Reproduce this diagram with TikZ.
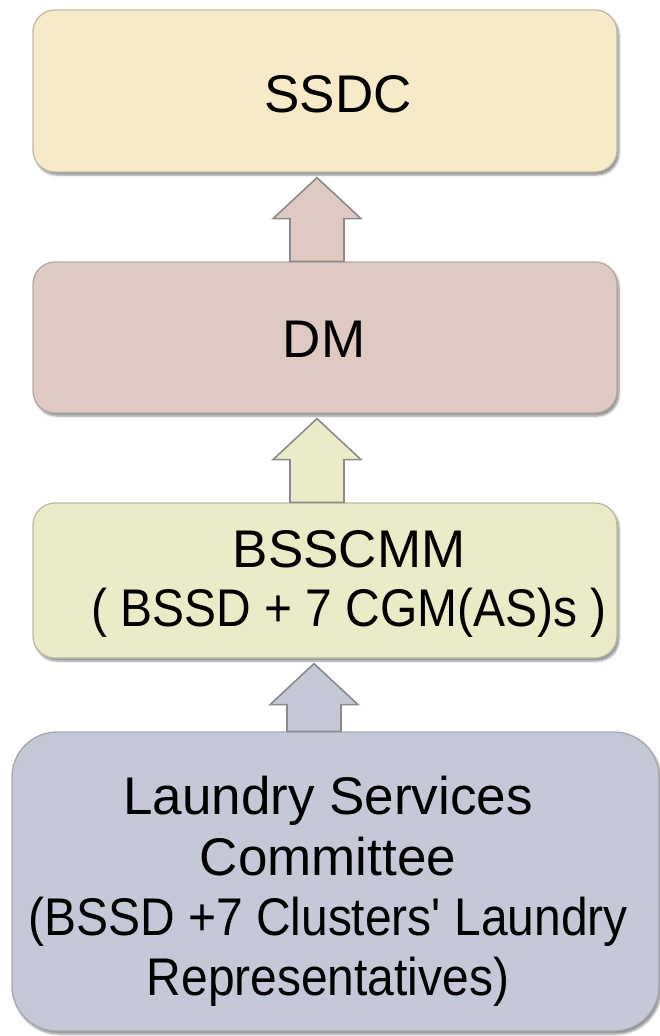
\documentclass[tikz,border=0pt]{standalone}
\usepackage{fontspec}
\usepackage{graphicx}
\setmainfont{Liberation Sans}
\usetikzlibrary{calc,shadows.blur}

\definecolor{ssdcfill}{HTML}{F7EAC8}
\definecolor{dmfill}{HTML}{DFCAC3}
\definecolor{bssfill}{HTML}{EBEBC8}
\definecolor{lscfill}{HTML}{C5C8D7}
\definecolor{arrowline}{HTML}{8A8A8A}

\tikzset{
  tier/.style={fill=#1, draw=#1!55!gray, line width=1.3pt,
    rounded corners=22pt, inner sep=0pt,
    blur shadow={shadow xshift=2pt, shadow yshift=-3pt,
      shadow blur steps=6, shadow opacity=45}},
  tiertext/.style={inner sep=0pt, align=center, text=black,
    font=\fontsize{53}{60}\selectfont},
  connarrow/.style={draw=arrowline, line width=1.6pt, line join=miter}
}

% narrower set for the bracketed lines
\newcommand\narrowline[1]{\scalebox{0.905}[1]{#1}}

% Block arrow from the top of #1 up to the bottom of #2, centred on coordinate #3
\newcommand\upconn[4]{%
  \draw[connarrow, fill=#4]
    ($(#1.north -| #3)+(-27,0)$) -- ($(#2.south -| #3)+(-27,46)$)
    -- ($(#2.south -| #3)+(-44,46)$) -- ($(#2.south -| #3)+(0,5)$)
    -- ($(#2.south -| #3)+(44,46)$) -- ($(#2.south -| #3)+(27,46)$)
    -- ($(#1.north -| #3)+(27,0)$) -- cycle;}

\begin{document}
\begin{tikzpicture}[x=1pt, y=-1pt]
  \useasboundingbox (0,0) rectangle (660,1036);

  % tiers, top to bottom
  \node[tier=ssdcfill, minimum width=584pt, minimum height=162pt] (ssdc) at (325,91) {};
  \node[tier=dmfill, minimum width=584pt, minimum height=151pt] (dm) at (325,337.5) {};
  \node[tier=bssfill, minimum width=584pt, minimum height=155pt] (bss) at (325,580.5) {};
  \node[tier=lscfill, rounded corners=45pt, minimum width=647pt, minimum height=299pt] (lsc) at (335.5,881.5) {};

  % labels
  \node[tiertext, anchor=base] (ssdc-t) at (338,112) {SSDC};
  \node[tiertext, anchor=base] (dm-t) at (324,357) {DM};
  \node[tiertext, anchor=north] (bss-t) at (349,530) {BSSCMM\\[-1pt]\narrowline{( BSSD + 7 CGM(AS)s )}};
  \node[tiertext, anchor=north] (lsc-t) at (328,776) {Laundry Services\\[1pt]Committee\\\narrowline{(BSSD +7 Clusters\textquotesingle{} Laundry}\\\narrowline{Representatives)}};

  % reporting arrows
  \coordinate (c1) at (317,0);
  \coordinate (c2) at (317,0);
  \coordinate (c3) at (314,0);
  \upconn{dm}{ssdc}{c1}{dmfill}
  \upconn{bss}{dm}{c2}{bssfill}
  \upconn{lsc}{bss}{c3}{lscfill}
\end{tikzpicture}
\end{document}
